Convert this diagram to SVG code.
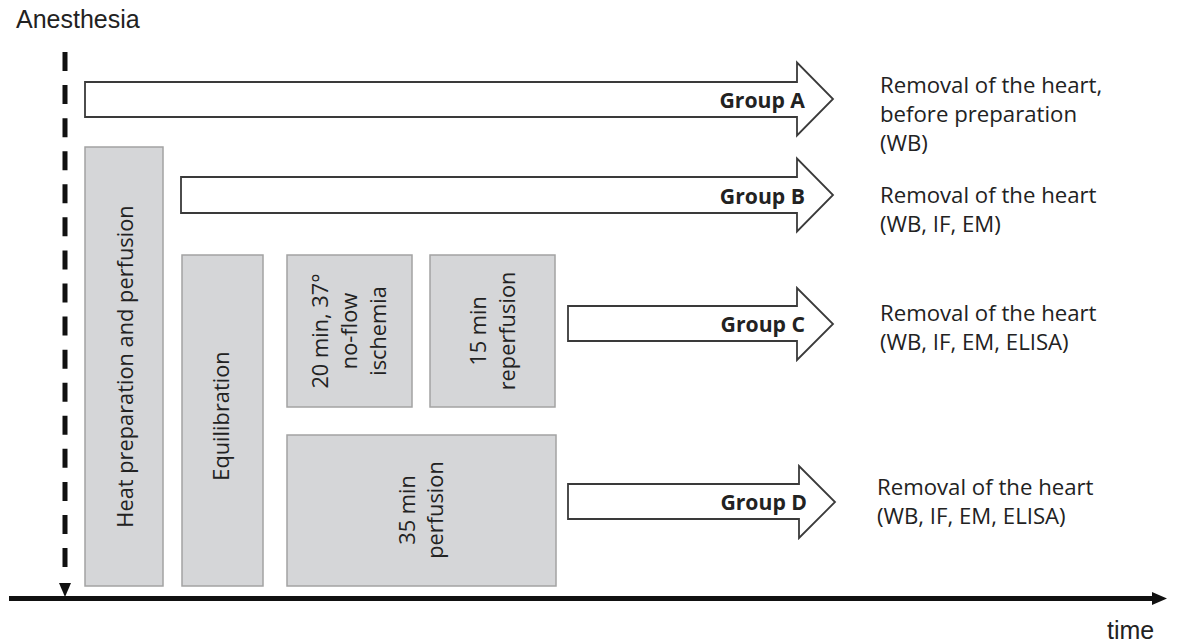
<svg xmlns="http://www.w3.org/2000/svg" width="1195" height="643" viewBox="0 0 1195 643">
<style>
.box{fill:#d5d6d8;stroke:#a3a3a3;stroke-width:1.5}
.arr{fill:#ffffff;stroke:#3a3a3a;stroke-width:1.8;stroke-linejoin:miter}
.lbl{font-family:"Open Sans","Liberation Sans",sans-serif;font-size:22.2px;fill:#222}
.grp{font-family:"Open Sans","Liberation Sans",sans-serif;font-size:21.2px;font-weight:bold;fill:#222;text-anchor:end}
.vt{font-family:"Open Sans","Liberation Sans",sans-serif;font-size:21.8px;fill:#222;text-anchor:middle}
.ax{font-family:"Liberation Sans",Arial,sans-serif;font-size:25px;fill:#222}
</style>
<rect width="1195" height="643" fill="#ffffff"/>
<g id="connectors">
  <line x1="65" y1="52" x2="65" y2="568" stroke="#111" stroke-width="5" stroke-dasharray="19 14.07"/>
  <polygon points="59,583 71,583 65,597" fill="#111"/>
  <line x1="9" y1="598.5" x2="1153" y2="598.5" stroke="#111" stroke-width="5"/>
  <polygon points="1152,592 1167,598.5 1152,605" fill="#111"/>
</g>
<g id="anesthesia"><text class="ax" x="16" y="28">Anesthesia</text></g>
<g id="time"><text class="ax" x="1107" y="639" font-size="24">time</text></g>
<g id="heat">
  <rect class="box" x="85" y="147" width="78" height="439"/>
  <text class="vt" transform="translate(133,366.5) rotate(-90)">Heat preparation and perfusion</text>
</g>
<g id="equilibration">
  <rect class="box" x="182" y="255" width="81" height="331"/>
  <text class="vt" transform="translate(229,416) rotate(-90)">Equilibration</text>
</g>
<g id="ischemia">
  <rect class="box" x="287" y="255" width="125" height="152"/>
  <text class="vt" transform="translate(328,331) rotate(-90)">20 min, 37°</text>
  <text class="vt" transform="translate(357,331) rotate(-90)">no-flow</text>
  <text class="vt" transform="translate(386,331) rotate(-90)">ischemia</text>
</g>
<g id="reperfusion">
  <rect class="box" x="430" y="255" width="125" height="152"/>
  <text class="vt" transform="translate(485.5,331) rotate(-90)">15 min</text>
  <text class="vt" transform="translate(514.5,331) rotate(-90)">reperfusion</text>
</g>
<g id="perfusion35">
  <rect class="box" x="287" y="435" width="269" height="151"/>
  <text class="vt" transform="translate(415,510) rotate(-90)">35 min</text>
  <text class="vt" transform="translate(443,510) rotate(-90)">perfusion</text>
</g>
<g id="groupA">
  <polygon class="arr" points="85,82 797,82 797,62.5 833,99 797,135.5 797,117 85,117"/>
  <text class="grp" x="805" y="108">Group A</text>
  <text class="lbl" x="880" y="93">Removal of the heart,</text>
  <text class="lbl" x="880" y="122">before preparation</text>
  <text class="lbl" x="880" y="151">(WB)</text>
</g>
<g id="groupB">
  <polygon class="arr" points="181,177 797,177 797,158.5 833,195 797,231.5 797,213 181,213"/>
  <text class="grp" x="805" y="203.5">Group B</text>
  <text class="lbl" x="880" y="203">Removal of the heart</text>
  <text class="lbl" x="880" y="232">(WB, IF, EM)</text>
</g>
<g id="groupC">
  <polygon class="arr" points="568,306 797,306 797,288 833,324 797,360 797,341 568,341"/>
  <text class="grp" x="805" y="332">Group C</text>
  <text class="lbl" x="880" y="321">Removal of the heart</text>
  <text class="lbl" x="880" y="350">(WB, IF, EM, ELISA)</text>
</g>
<g id="groupD">
  <polygon class="arr" points="568,484 799,484 799,466 835,502 799,538 799,519 568,519"/>
  <text class="grp" x="807" y="510">Group D</text>
  <text class="lbl" x="877" y="495">Removal of the heart</text>
  <text class="lbl" x="877" y="524">(WB, IF, EM, ELISA)</text>
</g>
</svg>
